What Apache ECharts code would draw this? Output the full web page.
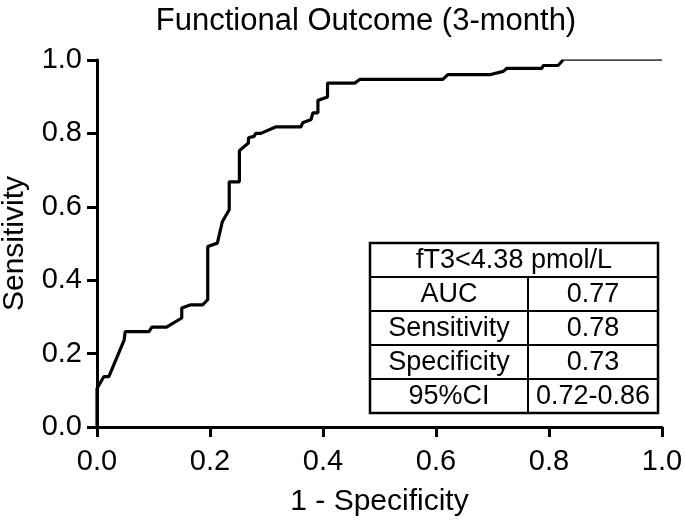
<!DOCTYPE html>
<html>
<head>
<meta charset="utf-8">
<script src="https://cdn.jsdelivr.net/npm/echarts@6/dist/echarts.min.js"></script>
<style>
  html, body { margin: 0; padding: 0; background: #fff; }
  #chart { width: 685px; height: 522px; }
</style>
</head>
<body>
<div id="chart"></div>
<script>
  // ROC curve points
  var fpr = [0, 0, 0.012, 0.021, 0.048, 0.050, 0.092, 0.097, 0.123, 0.150, 0.150, 0.166, 0.187, 0.196, 0.196,
    0.213, 0.222, 0.234, 0.234, 0.252, 0.252, 0.268, 0.268, 0.278, 0.281, 0.290, 0.317, 0.361, 0.364, 0.379,
    0.382, 0.391, 0.391, 0.408, 0.408, 0.456, 0.465, 0.612, 0.621, 0.695, 0.719, 0.725, 0.787, 0.790, 0.816, 0.825];
  var tpr = [0, 0.105, 0.137, 0.137, 0.237, 0.260, 0.260, 0.272, 0.272, 0.297, 0.324, 0.333, 0.333, 0.347, 0.492,
    0.501, 0.560, 0.592, 0.668, 0.668, 0.753, 0.774, 0.788, 0.792, 0.800, 0.800, 0.818, 0.818, 0.829, 0.838,
    0.856, 0.856, 0.890, 0.899, 0.937, 0.937, 0.947, 0.947, 0.960, 0.960, 0.969, 0.977, 0.977, 0.985, 0.985, 1.0];
  // thin tail to the corner
  var tailX = [0.825, 1.0];
  var tailY = [1.0, 1.0];

  var tableHeader = "fT3<4.38 pmol/L";
  var tableLabels = ["AUC", "Sensitivity", "Specificity", "95%CI"];
  var tableValues = ["0.77", "0.78", "0.73", "0.72-0.86"];

  var font = "Liberation Sans, Arial, sans-serif";

  function zip(xs, ys) {
    return xs.map(function (x, i) { return [x, ys[i]]; });
  }

  // table drawn as graphic elements
  function buildTable() {
    var left = 370, right = 658, top = 243, rowH = 34, split = 528;
    var rows = tableLabels.length + 1;
    var bottom = top + rowH * rows;
    var els = [];
    var line = { stroke: "#000", lineWidth: 2 };
    els.push({
      type: "rect",
      shape: { x: left, y: top, width: right - left, height: bottom - top },
      style: { fill: "#fff", stroke: "#000", lineWidth: 2.5 }
    });
    for (var r = 1; r < rows; r++) {
      els.push({ type: "line", shape: { x1: left, y1: top + r * rowH, x2: right, y2: top + r * rowH }, style: line });
    }
    els.push({ type: "line", shape: { x1: split, y1: top + rowH, x2: split, y2: bottom }, style: line });
    var txt = function (s, x, y) {
      return {
        type: "text", x: x, y: y,
        style: { text: s, fill: "#000", font: "27px " + font, align: "center", verticalAlign: "middle" }
      };
    };
    els.push(txt(tableHeader, (left + right) / 2, top + rowH / 2 + 1));
    tableLabels.forEach(function (s, i) {
      var cy = top + rowH * (i + 1) + rowH / 2 + 1;
      els.push(txt(s, (left + split) / 2, cy));
      els.push(txt(tableValues[i], (split + right) / 2, cy));
    });
    return els;
  }

  var chart = echarts.init(document.getElementById("chart"));
  chart.setOption({
    animation: false,
    backgroundColor: "#fff",
    title: {
      text: "Functional Outcome (3-month)",
      left: 361,
      top: 1,
      textAlign: "center",
      textStyle: { fontFamily: font, fontSize: 31, fontWeight: "normal", color: "#000" }
    },
    grid: { left: 97, right: 23, top: 60, bottom: 95, outerBoundsMode: "none", containLabel: false },
    xAxis: {
      type: "value",
      min: 0, max: 1, interval: 0.2,
      name: "1 - Specificity",
      nameLocation: "middle",
      nameGap: 60,
      nameTextStyle: { fontFamily: font, fontSize: 30, color: "#000" },
      axisLine: { lineStyle: { color: "#000", width: 3 } },
      axisTick: { length: 10, lineStyle: { color: "#000", width: 3 } },
      axisLabel: {
        fontFamily: font, fontSize: 29, color: "#000", margin: 20,
        formatter: function (v) { return v.toFixed(1); }
      },
      splitLine: { show: false }
    },
    yAxis: {
      type: "value",
      min: 0, max: 1, interval: 0.2,
      name: "Sensitivity",
      nameLocation: "middle",
      nameGap: 67,
      nameTextStyle: { fontFamily: font, fontSize: 30, color: "#000" },
      axisLine: { lineStyle: { color: "#000", width: 3 } },
      axisTick: { length: 10, lineStyle: { color: "#000", width: 3 } },
      axisLabel: {
        fontFamily: font, fontSize: 29, color: "#000", margin: 15,
        formatter: function (v) { return v.toFixed(1); }
      },
      splitLine: { show: false }
    },
    series: [
      {
        type: "line",
        data: zip(fpr, tpr),
        symbol: "none",
        lineStyle: { color: "#000", width: 3.2 },
        z: 3
      },
      {
        type: "line",
        data: zip(tailX, tailY),
        symbol: "none",
        lineStyle: { color: "#111", width: 1.6 },
        z: 3
      }
    ],
    graphic: buildTable()
  });
</script>
</body>
</html>
